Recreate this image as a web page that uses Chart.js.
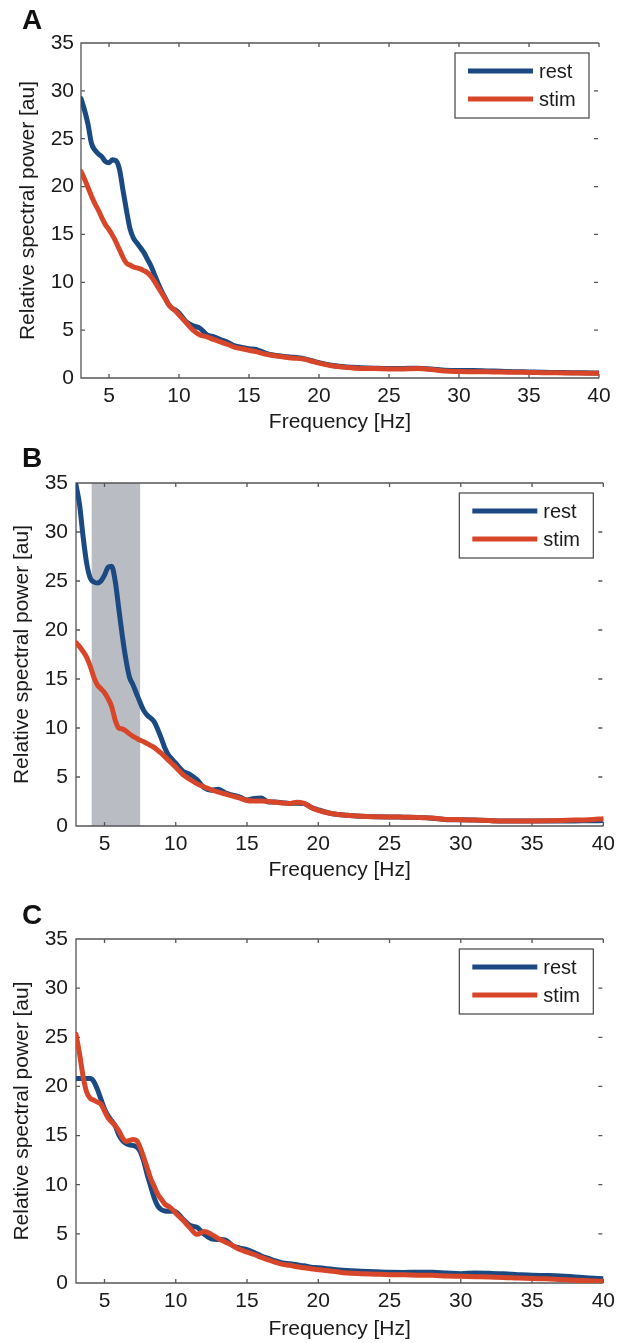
<!DOCTYPE html>
<html>
<head>
<meta charset="utf-8">
<script src="https://cdn.jsdelivr.net/npm/chart.js@4.4.1/dist/chart.umd.min.js"></script>
<style>
  html, body { margin: 0; padding: 0; background: #fff; }
  body { width: 621px; height: 1343px; position: relative; overflow: hidden; font-family: "Liberation Sans", Arial, sans-serif; }
  .panel { position: absolute; left: 0; width: 621px; }
  .tag { position: absolute; left: 22px; font-weight: bold; font-size: 28px; line-height: 28px; color: #111; }
</style>
</head>
<body>
<div class="panel" style="top:0;height:440px"><canvas id="chartA"></canvas></div>
<div class="panel" style="top:440px;height:450px"><canvas id="chartB"></canvas></div>
<div class="panel" style="top:890px;height:453px"><canvas id="chartC"></canvas></div>
<div class="tag" style="top:6px">A</div>
<div class="tag" style="top:444px">B</div>
<div class="tag" style="top:901px">C</div>
<script>
// frequency grid (Hz)
const freq = [3, 3.25, 3.5, 3.75, 4, 4.25, 4.5, 4.75, 5, 5.25, 5.5, 5.75, 6, 6.25, 6.5, 6.75, 7, 7.25, 7.5, 7.75, 8, 8.25, 8.5, 8.75, 9, 9.25, 9.5, 9.75, 10,
  10.5, 11, 11.5, 12, 12.5, 13, 13.5, 14, 14.5, 15, 15.5, 16, 16.5, 17, 17.5, 18, 18.5, 19, 19.5, 20,
  21, 22, 23, 24, 25, 26, 27, 28, 29, 30, 31, 32, 33, 34, 35, 36, 37, 38, 39, 40];

// panel A
const restA = [29.2, 28.0, 26.5, 24.5, 23.8, 23.4, 23.1, 22.6, 22.5, 22.8, 22.7, 21.8, 19.6, 17.5, 15.6, 14.6, 14.1, 13.6, 13.1, 12.4, 11.7, 10.8, 9.9, 9.1, 8.4, 7.7, 7.3, 7.1, 6.8,
  5.9, 5.45, 5.2, 4.5, 4.3, 4.0, 3.7, 3.35, 3.2, 3.07, 2.98, 2.7, 2.45, 2.35, 2.25, 2.18, 2.12, 2.0, 1.8, 1.6,
  1.3, 1.15, 1.08, 1.03, 1.0, 1.0, 1.02, 0.95, 0.8, 0.78, 0.78, 0.74, 0.7, 0.66, 0.63, 0.6, 0.58, 0.56, 0.54, 0.52];
const stimA = [21.6, 20.8, 19.9, 19.0, 18.2, 17.5, 16.7, 16.0, 15.5, 14.9, 14.2, 13.4, 12.6, 12.0, 11.8, 11.6, 11.5, 11.4, 11.2, 11.0, 10.6, 10.1, 9.5, 8.9, 8.3, 7.7, 7.3, 7.0, 6.6,
  5.8, 5.0, 4.5, 4.3, 4.0, 3.76, 3.5, 3.2, 3.05, 2.9, 2.75, 2.55, 2.4, 2.3, 2.2, 2.1, 2.05, 1.95, 1.75, 1.55,
  1.25, 1.1, 1.0, 0.98, 0.95, 0.95, 0.98, 0.9, 0.72, 0.68, 0.66, 0.64, 0.62, 0.6, 0.58, 0.56, 0.54, 0.52, 0.5, 0.5];

// panel B
const restB = [34.8, 32.8, 29.5, 26.8, 25.3, 24.9, 24.8, 25.0, 25.6, 26.4, 26.5, 25.0, 22.2, 19.4, 17.0, 15.2, 14.4, 13.5, 12.6, 11.8, 11.3, 11.0, 10.6, 9.8, 8.9, 7.9, 7.2, 6.8, 6.4,
  5.6, 5.25, 4.7, 3.9, 3.65, 3.75, 3.35, 3.15, 2.96, 2.65, 2.8, 2.85, 2.45, 2.45, 2.38, 2.3, 2.32, 2.3, 1.9, 1.65,
  1.25, 1.09, 1.0, 0.95, 0.92, 0.9, 0.88, 0.8, 0.65, 0.65, 0.6, 0.55, 0.51, 0.5, 0.5, 0.5, 0.5, 0.52, 0.53, 0.55];
const stimB = [18.7, 18.3, 17.8, 17.2, 16.3, 15.2, 14.4, 14.0, 13.6, 13.0, 12.2, 10.8, 10.0, 9.9, 9.7, 9.4, 9.15, 8.95, 8.75, 8.6, 8.4, 8.2, 8.0, 7.7, 7.4, 7.05, 6.7, 6.35, 6.0,
  5.25, 4.75, 4.3, 3.98, 3.7, 3.45, 3.25, 3.05, 2.85, 2.6, 2.55, 2.55, 2.5, 2.42, 2.35, 2.3, 2.42, 2.3, 1.9, 1.6,
  1.25, 1.09, 1.0, 0.95, 0.92, 0.9, 0.88, 0.82, 0.67, 0.65, 0.6, 0.55, 0.51, 0.5, 0.51, 0.53, 0.56, 0.6, 0.65, 0.75];
const bandB = [4.1, 7.5];

// panel C
const restC = [20.8, 20.8, 20.8, 20.8, 20.8, 20.5, 19.7, 18.7, 17.7, 17.0, 16.5, 16.0, 15.1, 14.5, 14.2, 14.05, 14.0, 13.85, 13.4, 12.4, 11.0, 9.8, 8.6, 7.8, 7.45, 7.32, 7.3, 7.3, 7.25,
  6.5, 5.85, 5.65, 4.95, 4.5, 4.43, 4.35, 3.8, 3.55, 3.4, 3.1, 2.75, 2.5, 2.25, 2.05, 1.95, 1.85, 1.75, 1.6, 1.55,
  1.4, 1.26, 1.2, 1.15, 1.09, 1.08, 1.1, 1.1, 1.02, 0.95, 1.02, 0.98, 0.93, 0.85, 0.78, 0.76, 0.72, 0.62, 0.52, 0.44];
const stimC = [25.3, 23.3, 21.0, 19.4, 18.8, 18.6, 18.4, 18.2, 17.5, 16.8, 16.4, 16.0, 15.5, 14.8, 14.4, 14.5, 14.6, 14.5, 13.8, 12.8, 11.7, 10.6, 9.8, 9.0, 8.5, 8.0, 7.8, 7.5, 7.1,
  6.4, 5.6, 4.95, 5.25, 4.95, 4.5, 4.15, 3.8, 3.4, 3.15, 2.9, 2.6, 2.35, 2.1, 1.9, 1.8, 1.65, 1.55, 1.45, 1.35,
  1.2, 1.02, 0.95, 0.9, 0.85, 0.83, 0.8, 0.78, 0.72, 0.68, 0.64, 0.6, 0.57, 0.5, 0.45, 0.42, 0.35, 0.28, 0.22, 0.17];

const seriesNames = ["rest", "stim"];
const xTicks = [5, 10, 15, 20, 25, 30, 35, 40];
const yTicks = [0, 5, 10, 15, 20, 25, 30, 35];
const xTitle = "Frequency [Hz]";
const yTitle = "Relative spectral power [au]";

const BLUE = "#1b4a82";
const RED = "#d8462a";
const AXIS = "#555";

Chart.defaults.font.family = '"Liberation Sans", Arial, sans-serif';
Chart.defaults.color = "#1a1a1a";

// axes box with inward ticks, no right border (like the figure), optional shaded band
const boxPlugin = {
  id: "matlabBox",
  beforeDatasetsDraw(chart, args, opts) {
    const { ctx, chartArea: a, scales: { x, y } } = chart;
    ctx.save();
    if (opts.band) {
      const x0 = x.getPixelForValue(opts.band[0]);
      const x1 = x.getPixelForValue(opts.band[1]);
      ctx.fillStyle = "#b9bdc3";
      ctx.fillRect(x0, a.top, x1 - x0, a.bottom - a.top);
    }
    ctx.strokeStyle = AXIS;
    ctx.lineWidth = 1.3;
    ctx.beginPath();
    ctx.moveTo(a.right, a.top);
    ctx.lineTo(a.left, a.top);
    ctx.lineTo(a.left, a.bottom);
    ctx.lineTo(a.right, a.bottom);
    x.ticks.forEach(t => {
      const px = x.getPixelForValue(t.value);
      ctx.moveTo(px, a.bottom); ctx.lineTo(px, a.bottom - 4);
      ctx.moveTo(px, a.top); ctx.lineTo(px, a.top + 4);
    });
    y.ticks.forEach(t => {
      const py = y.getPixelForValue(t.value);
      ctx.moveTo(a.left, py); ctx.lineTo(a.left + 4, py);
      ctx.moveTo(a.right - 1, py); ctx.lineTo(a.right - 5, py);
    });
    ctx.stroke();
    ctx.restore();
  },
  afterDatasetsDraw(chart) {
    const { ctx, chartArea: a } = chart;
    const w = 134, h = 65;
    const bx = a.right - 10 - w, by = a.top + 10;
    ctx.save();
    ctx.fillStyle = "#fff";
    ctx.fillRect(bx, by, w, h);
    ctx.strokeStyle = "#444";
    ctx.lineWidth = 1.2;
    ctx.strokeRect(bx, by, w, h);
    ctx.font = '20px "Liberation Sans", Arial, sans-serif';
    ctx.textBaseline = "middle";
    ctx.fillStyle = "#1a1a1a";
    chart.data.datasets.forEach((ds, i) => {
      const ry = by + 18 + i * 28;
      ctx.strokeStyle = ds.borderColor;
      ctx.lineWidth = 5;
      ctx.beginPath();
      ctx.moveTo(bx + 13, ry);
      ctx.lineTo(bx + 78, ry);
      ctx.stroke();
      ctx.fillText(ds.label, bx + 84, ry + 1);
    });
    ctx.restore();
  }
};

function makeChart(id, rest, stim, lay, band) {
  const toPts = vals => freq.map((f, i) => ({ x: f, y: vals[i] }));
  const ctx = document.getElementById(id).getContext("2d");
  return new Chart(ctx, {
    type: "line",
    data: {
      datasets: [
        // stim is drawn on top of rest, as in the figure
        { label: seriesNames[0], data: toPts(rest), borderColor: BLUE, borderWidth: 5, order: 2 },
        { label: seriesNames[1], data: toPts(stim), borderColor: RED, borderWidth: 5, order: 1 }
      ]
    },
    options: {
      responsive: true,
      maintainAspectRatio: false,
      animation: false,
      events: [],
      elements: {
        point: { radius: 0 },
        line: { cubicInterpolationMode: "monotone", fill: false, borderCapStyle: "round", borderJoinStyle: "round" }
      },
      layout: { padding: { top: lay.top, right: lay.right, left: 0, bottom: 0 } },
      plugins: {
        legend: { display: false },
        tooltip: { enabled: false },
        matlabBox: { band: band }
      },
      scales: {
        x: {
          type: "linear",
          min: 3,
          max: 40,
          afterBuildTicks: s => { s.ticks = xTicks.map(v => ({ value: v })); },
          afterFit: s => { s.height = lay.xh; },
          grid: { display: false, drawTicks: false },
          border: { display: false },
          ticks: { font: { size: 21 }, padding: lay.xpad, color: "#1a1a1a" },
          title: { display: true, text: xTitle, font: { size: 21 }, padding: { top: 0, bottom: lay.xtb }, color: "#1a1a1a" }
        },
        y: {
          min: 0,
          max: 35,
          afterBuildTicks: s => { s.ticks = yTicks.map(v => ({ value: v })); },
          afterFit: s => { s.width = lay.yw; },
          grid: { display: false, drawTicks: false },
          border: { display: false },
          ticks: { font: { size: 21 }, padding: lay.ypad, color: "#1a1a1a" },
          title: { display: true, text: yTitle, font: { size: 21 }, padding: { top: lay.ytt, bottom: 0 }, color: "#1a1a1a" }
        }
      }
    },
    plugins: [boxPlugin]
  });
}

makeChart("chartA", restA, stimA, { top: 43, right: 22, xh: 62, yw: 81, xpad: 6, xtb: 5.4, ypad: 7, ytt: 15.4 }, null);
makeChart("chartB", restB, stimB, { top: 43, right: 15, xh: 64, yw: 76, xpad: 6, xtb: 7.4, ypad: 8, ytt: 9.4 }, bandB);
makeChart("chartC", restC, stimC, { top: 49, right: 15, xh: 60, yw: 76, xpad: 6, xtb: 1.4, ypad: 8, ytt: 9.4 }, null);
</script>
</body>
</html>
